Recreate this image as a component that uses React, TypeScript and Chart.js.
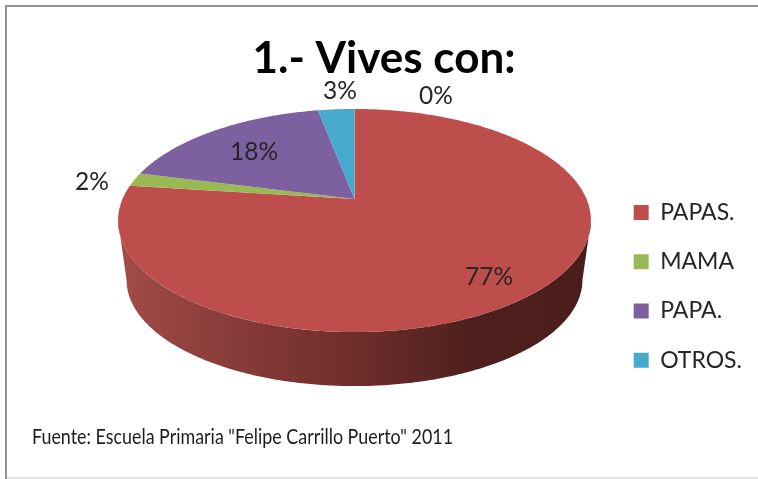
import React, { useEffect, useRef } from "react";
import { Chart, registerables } from "chart.js";

Chart.register(...registerables);

const categories = ["PAPAS.", "MAMA", "PAPA.", "OTROS.", ""];
const shares = [77, 2, 18, 3, 0];
const sliceColors = ["#BE4E4B", "#98B954", "#7D60A0", "#46AACC", "#F79646"];
const titleText = "1.- Vives con:";
const sourceText = 'Fuente: Escuela Primaria "Felipe Carrillo Puerto" 2011';

const FONT = "Lato, Carlito, sans-serif";
const INK = "#262626";

// Where each percentage text sits on the canvas, in slice order.
const labelAnchors = [
  [489, 277],
  [92, 182],
  [254, 152],
  [340, 91],
  [436, 96],
];

// Tilted disc: the hub sits above the centre of the projected ellipse.
const HUB = { x: 354.5, y: 199 };
const TILT = 0.193;
const SPREAD_X = 232;
const SPREAD_Y = 107.4;
const RIM = { cx: 354.5, cy: 220.5, rx: 236.5, ry: 111.5 };
const BASE = { cx: 354.5, cy: 280, rx: 228, ry: 106 };

function project(clockAngle: number) {
  const X = Math.sin(clockAngle);
  const Y = Math.cos(clockAngle);
  const w = 1 + TILT * Y;
  return { x: HUB.x + (SPREAD_X * X) / w, y: HUB.y - (SPREAD_Y * Y) / w };
}

function toBase(p: { x: number; y: number }) {
  return {
    x: BASE.cx + ((p.x - RIM.cx) / RIM.rx) * BASE.rx,
    y: BASE.cy + ((p.y - RIM.cy) / RIM.ry) * BASE.ry,
  };
}

function sweep(from: number, to: number) {
  const n = Math.max(2, Math.ceil((to - from) / 0.01));
  const pts = [];
  for (let i = 0; i <= n; i++) pts.push(project(from + ((to - from) * i) / n));
  return pts;
}

const tiltedPie = {
  id: "tiltedPie",
  beforeDraw(chart: any) {
    const { ctx, width, height } = chart;
    ctx.save();
    ctx.fillStyle = "#ffffff";
    ctx.fillRect(0, 0, width, height);
    ctx.fillStyle = "#E0E0E0";
    ctx.fillRect(6, 477, width - 6, 2);
    ctx.fillStyle = "#929292";
    ctx.fillRect(5, 5, width - 5, 2);
    ctx.fillRect(5, 5, 2, height - 5);
    ctx.restore();
  },
  beforeDatasetDraw(chart: any, args: any) {
    const { ctx } = chart;
    const arcs = chart.getDatasetMeta(args.index).data;
    const frontStart = Math.PI / 2 + Math.asin(TILT);
    const frontEnd = (3 * Math.PI) / 2 - Math.asin(TILT);

    ctx.save();
    // Side wall below the front part of the rim.
    arcs.forEach((arc: any) => {
      const start = Math.max(arc.startAngle + Math.PI / 2, frontStart);
      const end = Math.min(arc.endAngle + Math.PI / 2, frontEnd);
      if (end <= start) return;
      const rim = sweep(start, end);
      const base = rim.map(toBase).reverse();
      const shade = ctx.createLinearGradient(RIM.cx - RIM.rx, 0, RIM.cx + RIM.rx, 0);
      shade.addColorStop(0, "#A34C49");
      shade.addColorStop(0.2, "#8C3E3B");
      shade.addColorStop(0.5, "#6E2E2C");
      shade.addColorStop(0.75, "#4E201D");
      shade.addColorStop(1, "#4A1D1B");
      ctx.fillStyle = shade;
      ctx.beginPath();
      rim.concat(base).forEach((p: any, i: number) =>
        i ? ctx.lineTo(p.x, p.y) : ctx.moveTo(p.x, p.y)
      );
      ctx.closePath();
      ctx.fill();
    });

    // Top face, one wedge per arc.
    arcs.forEach((arc: any, i: number) => {
      if (arc.endAngle - arc.startAngle <= 0) return;
      const pts = sweep(arc.startAngle + Math.PI / 2, arc.endAngle + Math.PI / 2);
      ctx.fillStyle = sliceColors[i];
      ctx.beginPath();
      ctx.moveTo(HUB.x, HUB.y);
      pts.forEach((p: any) => ctx.lineTo(p.x, p.y));
      ctx.closePath();
      ctx.fill();
    });
    ctx.restore();
    return false;
  },
  afterDatasetsDraw(chart: any) {
    const { ctx } = chart;
    ctx.save();
    ctx.fillStyle = INK;
    ctx.textAlign = "center";
    ctx.textBaseline = "middle";
    ctx.font = `24.5px ${FONT}`;
    shares.forEach((v, i) => {
      ctx.fillText(`${v}%`, labelAnchors[i][0], labelAnchors[i][1]);
    });
    ctx.textAlign = "left";
    ctx.fillStyle = "#1E1E1E";
    ctx.font = `22px ${FONT}`;
    ctx.fillText(sourceText, 32, 437, 421);
    ctx.restore();
  },
};

export default function App() {
  const ref = useRef<HTMLCanvasElement>(null);

  useEffect(() => {
    const chart = new Chart(ref.current as HTMLCanvasElement, {
      type: "pie",
      data: {
        labels: categories,
        datasets: [{ data: shares, backgroundColor: sliceColors, borderWidth: 0 }],
      },
      options: {
        responsive: false,
        animation: false,
        layout: { padding: { left: 16, right: 6, top: 32, bottom: 0 } },
        plugins: {
          title: {
            display: true,
            text: titleText,
            color: "#000000",
            font: { family: FONT, size: 44, weight: "bold" },
            padding: { top: 0, bottom: 9 },
          },
          legend: {
            position: "right",
            fullSize: false,
            labels: {
              color: INK,
              font: { family: FONT, size: 23 },
              boxWidth: 15,
              boxHeight: 15,
              padding: 26.3,
              filter: (item: any) => item.text !== "",
            },
          },
          tooltip: { enabled: false },
        },
      },
      plugins: [tiltedPie],
    } as any);
    return () => chart.destroy();
  }, []);

  return (
    <div style={{ position: "absolute", left: 0, top: 0, width: 758, height: 479 }}>
      <canvas ref={ref} width={758} height={479} style={{ display: "block" }} />
    </div>
  );
}
